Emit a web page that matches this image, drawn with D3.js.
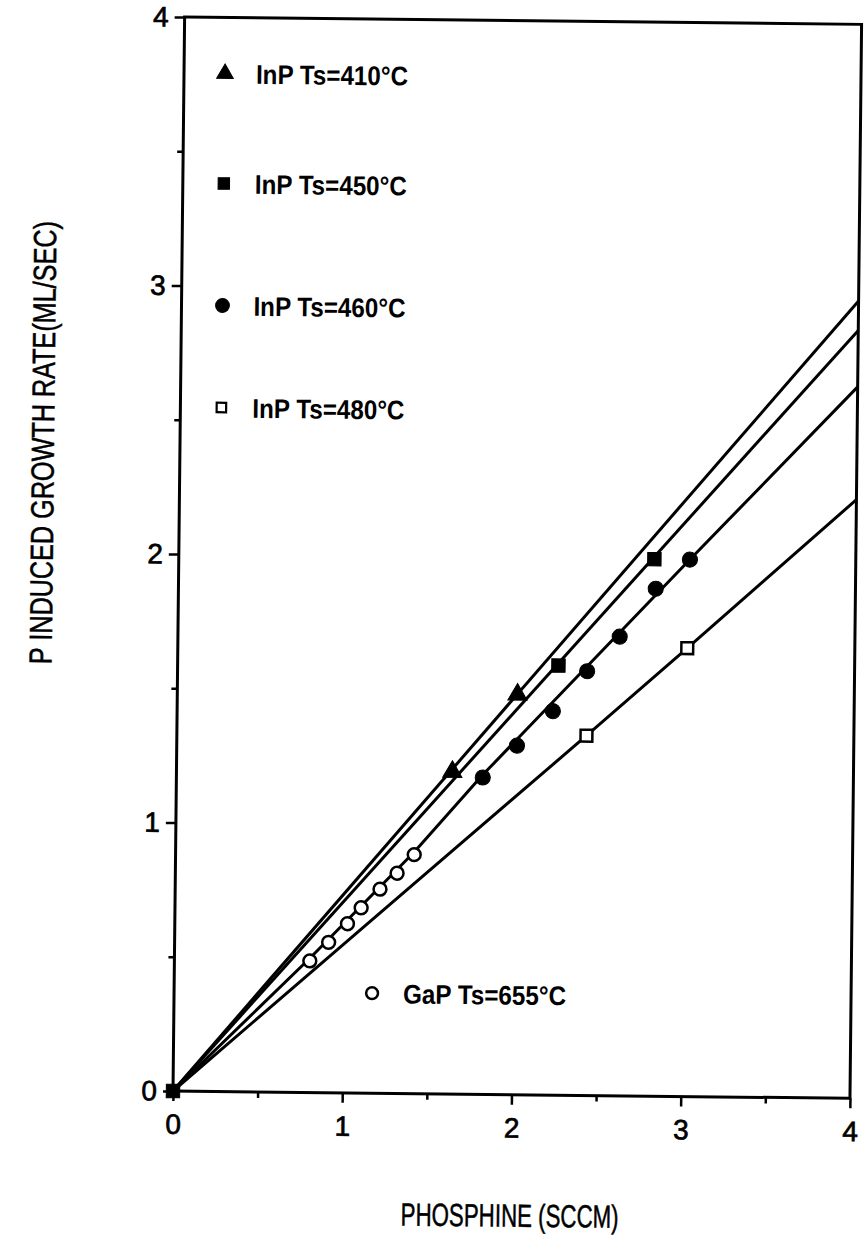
<!DOCTYPE html>
<html>
<head>
<meta charset="utf-8">
<script src="https://cdn.jsdelivr.net/npm/d3@7"></script>
<style>
  html, body { margin: 0; padding: 0; background: #fff; }
  svg { display: block; font-family: "Liberation Sans", Arial, sans-serif; }
</style>
</head>
<body>
<div id="viz"></div>
<script>
// datos (x = PHOSPHINE sccm, y = ML/SEC)
const xTicks = [0, 1, 2, 3, 4];
const yTicks = [0, 1, 2, 3, 4];
const minorTicks = [0.5, 1.5, 2.5, 3.5];

const originPoint = [[0, 0]];
const inp410 = [[1.63, 1.20], [2.01, 1.49]];
const inp450 = [[2.25, 1.60], [2.81, 2.00]];
const inp460 = [[1.81, 1.18], [2.01, 1.30], [2.22, 1.43], [2.42, 1.58], [2.61, 1.71], [2.82, 1.89], [3.02, 2.00]];
const inp480 = [[2.42, 1.34], [3.01, 1.67]];
const gap655 = [[0.80, 0.49], [0.91, 0.56], [1.02, 0.63], [1.10, 0.69], [1.21, 0.76], [1.31, 0.82], [1.41, 0.89]];

// rectas de ajuste
const fit410 = [[0, 0], [4, 2.97]];
const fit450 = [[0, 0], [4, 2.86]];
const fit460 = [[0, 0], [0.80, 0.50], [1.41, 0.90], [1.81, 1.19], [3.02, 2.00], [4, 2.65]];
const fit480 = [[0, 0], [1.11, 0.615], [2.42, 1.34], [3.01, 1.67], [4, 2.23]];

const legendLabels = ["InP Ts=410°C", "InP Ts=450°C", "InP Ts=460°C", "InP Ts=480°C"];
const gapLabel = "GaP Ts=655°C";
const xTitle = "PHOSPHINE (SCCM)";
const yTitle = "P INDUCED GROWTH RATE(ML/SEC)";

(function () {
  const W = 866, H = 1256;
  const x0 = 173, x1 = 850, yBot = 1091, yTop = 17;

  const svg = d3.select("#viz").append("svg")
    .attr("width", W).attr("height", H);

  // la imagen escaneada esta levemente girada
  const g = svg.append("g")
    .attr("transform", `rotate(0.62, ${x0}, ${yBot})`);

  const x = d3.scaleLinear().domain([0, 4]).range([x0, x1]);
  const y = d3.scaleLinear().domain([0, 4]).range([yBot, yTop]);

  // marco
  g.append("rect")
    .attr("x", x0).attr("y", yTop)
    .attr("width", x1 - x0).attr("height", yBot - yTop)
    .attr("fill", "none").attr("stroke", "#000").attr("stroke-width", 3);

  // ejes
  const axX = g.append("g").attr("transform", `translate(0,${yBot})`)
    .call(d3.axisBottom(x).tickValues(xTicks).tickSize(10).tickFormat(d3.format("d")).tickPadding(13));
  axX.append("g").call(d3.axisBottom(x).tickValues(minorTicks).tickSize(6).tickFormat(""));
  const axY = g.append("g").attr("transform", `translate(${x0},0)`)
    .call(d3.axisLeft(y).tickValues(yTicks).tickSize(10).tickFormat(d3.format("d")).tickPadding(6));
  axY.append("g").call(d3.axisLeft(y).tickValues(minorTicks).tickSize(6).tickFormat(""));

  g.selectAll(".domain").remove();
  g.selectAll(".tick line").attr("stroke", "#000").attr("stroke-width", 2.5);
  g.selectAll(".tick text")
    .attr("fill", "#000")
    .attr("stroke", "#000").attr("stroke-width", 0.7)
    .style("font-family", "Liberation Sans, Arial, sans-serif")
    .style("font-size", "28px");
  axX.selectAll(".tick text").attr("dy", "0.71em");
  axY.selectAll(".tick text").attr("x", -16);

  // lineas
  const line = d3.line().x(d => x(d[0])).y(d => y(d[1]));
  [fit410, fit450, fit460, fit480].forEach(f => {
    g.append("path").datum(f)
      .attr("d", line)
      .attr("fill", "none")
      .attr("stroke", "#000")
      .attr("stroke-width", 3)
      .attr("stroke-linejoin", "round");
  });

  // simbolos
  const sym = (type, size) => d3.symbol().type(type).size(size);

  function drawPoints(data, type, size, filled) {
    g.append("g").selectAll("path")
      .data(data)
      .enter().append("path")
      .attr("transform", d => `translate(${x(d[0])},${y(d[1])})`)
      .attr("d", sym(type, size))
      .attr("fill", filled ? "#000" : "#fff")
      .attr("stroke", "#000")
      .attr("stroke-width", filled ? 1 : 2.5);
  }

  drawPoints(originPoint, d3.symbolSquare, 180, true);
  drawPoints(inp410, d3.symbolTriangle, 160, true);
  drawPoints(inp450, d3.symbolSquare, 180, true);
  drawPoints(inp460, d3.symbolCircle, 180, true);
  drawPoints(inp480, d3.symbolSquare, 140, false);
  drawPoints(gap655, d3.symbolCircle, 130, false);

  // leyenda
  const legTypes = [
    { type: d3.symbolTriangle, size: 120, filled: true },
    { type: d3.symbolSquare, size: 130, filled: true },
    { type: d3.symbolCircle, size: 150, filled: true },
    { type: d3.symbolSquare, size: 90, filled: false }
  ];
  const legY = [73, 183, 305, 407];
  legendLabels.forEach((lab, i) => {
    const t = legTypes[i];
    g.append("path")
      .attr("transform", `translate(214,${legY[i]})`)
      .attr("d", sym(t.type, t.size))
      .attr("fill", t.filled ? "#000" : "#fff")
      .attr("stroke", "#000")
      .attr("stroke-width", t.filled ? 1 : 2.2);
    g.append("text")
      .attr("x", 245).attr("y", legY[i] + 10)
      .attr("font-size", 27).attr("font-weight", "bold")
      .attr("textLength", 152).attr("lengthAdjust", "spacingAndGlyphs")
      .text(lab);
  });
  g.append("path")
    .attr("transform", "translate(371,991)")
    .attr("d", sym(d3.symbolCircle, 110))
    .attr("fill", "#fff").attr("stroke", "#000").attr("stroke-width", 2.5);
  g.append("text")
    .attr("x", 402).attr("y", 1001)
    .attr("font-size", 27).attr("font-weight", "bold")
    .attr("textLength", 163).attr("lengthAdjust", "spacingAndGlyphs")
    .text(gapLabel);

  // titulos
  g.append("text")
    .attr("x", 511).attr("y", 1223)
    .attr("text-anchor", "middle")
    .attr("font-size", 32)
    .attr("stroke", "#000").attr("stroke-width", 0.5)
    .attr("textLength", 218).attr("lengthAdjust", "spacingAndGlyphs")
    .text(xTitle);
  g.append("text")
    .attr("transform", "translate(47,444) rotate(-90)")
    .attr("text-anchor", "middle")
    .attr("font-size", 32)
    .attr("stroke", "#000").attr("stroke-width", 0.5)
    .attr("textLength", 443).attr("lengthAdjust", "spacingAndGlyphs")
    .text(yTitle);
})();
</script>
</body>
</html>
